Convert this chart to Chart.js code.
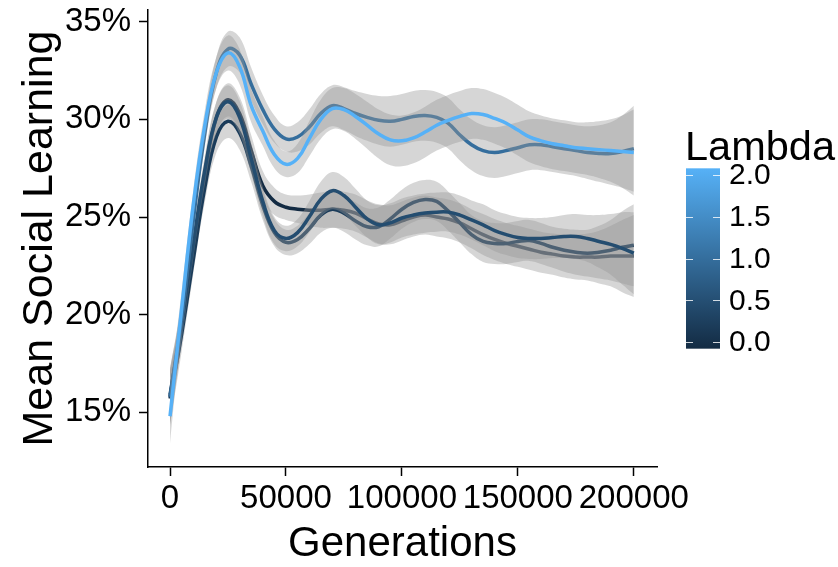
<!DOCTYPE html>
<html lang="en">
<head>
<meta charset="UTF-8">
<title>Mean Social Learning</title>
<style>
  body { margin: 0; background: #fff; }
  canvas { display: block; }
</style>
</head>
<body>
<canvas id="myChart" width="838" height="567"></canvas>
<script src="https://cdn.jsdelivr.net/npm/chart.js"></script>
<script>
// generations (x)
const generations = [0, 5000, 10000, 15000, 20000, 25000, 30000, 35000, 40000, 45000,
  50000, 55000, 60000, 65000, 70000, 75000, 80000, 85000, 90000, 95000,
  100000, 105000, 110000, 115000, 120000, 125000, 130000, 135000, 140000, 145000,
  150000, 155000, 160000, 165000, 170000, 175000, 180000, 185000, 190000, 195000, 200000];

// lambda of each series
const lambdas = [0, 0.25, 0.5, 1, 2];

// mean social learning in %, one array per lambda
const sl_l000 = [15.8, 19.3, 23.3, 27.2, 30.1, 31.0, 30.3, 28.4, 26.6, 25.8,
  25.5, 25.4, 25.35, 25.35, 25.4, 25.35, 25.2, 24.9, 24.65, 24.6,
  24.8, 25.0, 25.1, 25.0, 24.9, 24.7, 24.4, 24.1, 23.85, 23.65,
  23.5, 23.35, 23.2, 23.1, 23.0, 22.95, 22.95, 22.95, 23.0, 23.0, 23.0];
const sl_l025 = [15.7, 19.0, 22.8, 26.5, 29.1, 29.9, 29.3, 27.6, 25.6, 24.2,
  23.7, 23.85, 24.4, 25.1, 25.4, 25.2, 24.8, 24.5, 24.5, 24.9,
  25.4, 25.75, 25.9, 25.8, 25.3, 24.7, 24.1, 23.75, 23.65, 23.65,
  23.75, 23.8, 23.65, 23.45, 23.3, 23.2, 23.15, 23.2, 23.3, 23.45, 23.55];
const sl_l050 = [15.9, 19.5, 23.6, 27.4, 30.1, 30.9, 30.1, 28.0, 25.8, 24.3,
  23.9, 24.2, 25.0, 25.9, 26.35, 26.1, 25.5, 24.9, 24.6, 24.7,
  24.95, 25.1, 25.2, 25.25, 25.25, 25.1, 24.85, 24.6, 24.3, 24.1,
  23.95, 23.9, 23.9, 23.95, 24.0, 24.0, 23.9, 23.75, 23.6, 23.4, 23.15];
const sl_l100 = [15.8, 19.8, 24.8, 29.3, 32.4, 33.6, 33.3, 31.8, 30.5, 29.5,
  29.0, 29.1, 29.6, 30.3, 30.7, 30.55, 30.3, 30.1, 29.95, 29.9,
  30.0, 30.15, 30.2, 30.1, 29.8, 29.2, 28.7, 28.4, 28.3, 28.4,
  28.55, 28.7, 28.7, 28.6, 28.5, 28.4, 28.3, 28.25, 28.25, 28.35, 28.5];
const sl_l200 = [14.8, 20.3, 25.6, 29.7, 32.4, 33.4, 32.7, 30.7, 29.4, 28.2,
  27.7, 28.0, 29.0, 30.0, 30.55, 30.5, 30.15, 29.7, 29.25, 28.95,
  28.9, 29.05, 29.35, 29.7, 29.95, 30.15, 30.3, 30.25, 30.05, 29.8,
  29.45, 29.1, 28.9, 28.75, 28.65, 28.55, 28.5, 28.45, 28.4, 28.35, 28.3];

// half width of the smoother's confidence band, % (low lambdas / high lambdas)
const ciLow = [1.4, 0.9, 0.75, 0.75, 0.8, 0.85, 0.85, 0.8, 0.75, 0.7,
  0.65, 0.7, 0.8, 0.9, 0.95, 0.95, 0.95, 0.95, 1.0, 1.0,
  1.0, 1.0, 1.0, 1.0, 1.0, 1.0, 1.0, 1.05, 1.05, 1.05,
  1.05, 1.05, 1.05, 1.05, 1.1, 1.15, 1.2, 1.35, 1.55, 1.85, 2.1];
const ciHigh = [1.4, 0.9, 0.75, 0.75, 0.8, 0.9, 0.9, 0.85, 0.75, 0.7,
  0.65, 0.75, 0.9, 1.0, 1.05, 1.1, 1.15, 1.2, 1.25, 1.3,
  1.3, 1.3, 1.3, 1.3, 1.3, 1.3, 1.3, 1.3, 1.3, 1.3,
  1.3, 1.3, 1.3, 1.3, 1.3, 1.3, 1.35, 1.45, 1.6, 1.85, 2.2];

const xTicks = [0, 50000, 100000, 150000, 200000];
const yTicks = [15, 20, 25, 30, 35];
const legendTicks = [0, 0.5, 1, 1.5, 2];

const seriesList = [sl_l000, sl_l025, sl_l050, sl_l100, sl_l200];
const ciList = [ciLow, ciLow, ciLow, ciHigh, ciHigh];

// ggplot default continuous colour scale
const lowCol = [19, 43, 67];    // #132B43
const highCol = [86, 177, 247]; // #56B1F7
function lambdaColor(l) {
  const t = l / 2;
  const c = lowCol.map((v, i) => Math.round(v + (highCol[i] - v) * t));
  return "rgb(" + c.join(",") + ")";
}

const datasets = [];
seriesList.forEach(function (vals, g) {
  const base = datasets.length;
  const rank = (seriesList.length - 1 - g) * 3;
  const ci = ciList[g];
  datasets.push({
    label: "Lambda " + lambdas[g],
    data: generations.map((x, i) => ({ x: x, y: vals[i] })),
    borderColor: lambdaColor(lambdas[g]),
    borderWidth: 3.5,
    pointRadius: 0,
    tension: 0.4,
    fill: false,
    order: rank
  });
  datasets.push({
    label: "upper " + lambdas[g],
    data: generations.map((x, i) => ({ x: x, y: vals[i] + ci[i] })),
    borderWidth: 0,
    borderColor: "rgba(0,0,0,0)",
    backgroundColor: "rgba(153,153,153,0.4)",
    pointRadius: 0,
    tension: 0.4,
    fill: base + 2,
    order: rank + 1
  });
  datasets.push({
    label: "lower " + lambdas[g],
    data: generations.map((x, i) => ({ x: x, y: vals[i] - ci[i] })),
    borderWidth: 0,
    borderColor: "rgba(0,0,0,0)",
    pointRadius: 0,
    tension: 0.4,
    fill: false,
    order: rank + 2
  });
});

// colour bar legend on the right
const colorbar = {
  id: "colorbar",
  afterDraw(chart) {
    const ctx = chart.ctx;
    const x0 = 686, w = 34;
    const yOf = v => 342 - v * 83.5;
    const yTop = yOf(2.08), yBot = yOf(-0.08);
    ctx.save();
    const grad = ctx.createLinearGradient(0, yBot, 0, yTop);
    grad.addColorStop(0, lambdaColor(0));
    grad.addColorStop(1, lambdaColor(2));
    ctx.fillStyle = grad;
    ctx.fillRect(x0, yTop, w, yBot - yTop);
    ctx.strokeStyle = "rgba(255,255,255,0.8)";
    ctx.lineWidth = 1;
    ctx.font = "30px 'Liberation Sans', Arial, sans-serif";
    ctx.fillStyle = "#000";
    ctx.textBaseline = "middle";
    legendTicks.forEach(v => {
      const y = Math.round(yOf(v)) + 0.5;
      ctx.beginPath();
      ctx.moveTo(x0, y); ctx.lineTo(x0 + 7, y);
      ctx.moveTo(x0 + w - 7, y); ctx.lineTo(x0 + w, y);
      ctx.stroke();
      ctx.fillText(v.toFixed(1), 729, yOf(v) + 1);
    });
    ctx.font = "41.5px 'Liberation Sans', Arial, sans-serif";
    ctx.textBaseline = "alphabetic";
    ctx.fillText("Lambda", 685, 160);
    ctx.restore();
  }
};

const ctx = document.getElementById("myChart");
new Chart(ctx, {
  type: "line",
  data: { datasets: datasets },
  plugins: [colorbar],
  options: {
    responsive: false,
    animation: false,
    layout: { padding: { top: 10, right: 181, left: 0, bottom: 0 } },
    plugins: {
      legend: { display: false },
      tooltip: { enabled: false },
      filler: { propagate: false }
    },
    scales: {
      x: {
        type: "linear",
        min: -9500,
        max: 210000,
        afterBuildTicks: s => { s.ticks = xTicks.map(v => ({ value: v })); },
        afterFit: s => { s.height = 100; s.paddingLeft = 0; s.paddingRight = 0; },
        grid: { drawOnChartArea: false, color: "#000", tickLength: 9, tickWidth: 1.5 },
        border: { color: "#000", width: 1.5 },
        ticks: {
          color: "#000",
          padding: 3,
          maxRotation: 0,
          autoSkip: false,
          font: { family: "'Liberation Sans', Arial, sans-serif", size: 33 },
          callback: v => String(v)
        },
        title: {
          display: true,
          text: "Generations",
          color: "#000",
          font: { family: "'Liberation Sans', Arial, sans-serif", size: 42, lineHeight: 1 },
          padding: { top: 0, bottom: 2 }
        }
      },
      y: {
        min: 12.2,
        max: 35.6,
        afterBuildTicks: s => { s.ticks = yTicks.map(v => ({ value: v })); },
        afterFit: s => { s.width = 148; s.paddingTop = 0; s.paddingBottom = 0; },
        grid: { drawOnChartArea: false, color: "#000", tickLength: 9, tickWidth: 1.5 },
        border: { color: "#000", width: 1.5 },
        ticks: {
          color: "#000",
          padding: 8,
          font: { family: "'Liberation Sans', Arial, sans-serif", size: 33 },
          callback: v => v + "%"
        },
        title: {
          display: true,
          text: "Mean Social Learning",
          color: "#000",
          font: { family: "'Liberation Sans', Arial, sans-serif", size: 43, lineHeight: 1 },
          padding: { top: 19, bottom: 0 }
        }
      }
    }
  }
});
</script>
</body>
</html>
